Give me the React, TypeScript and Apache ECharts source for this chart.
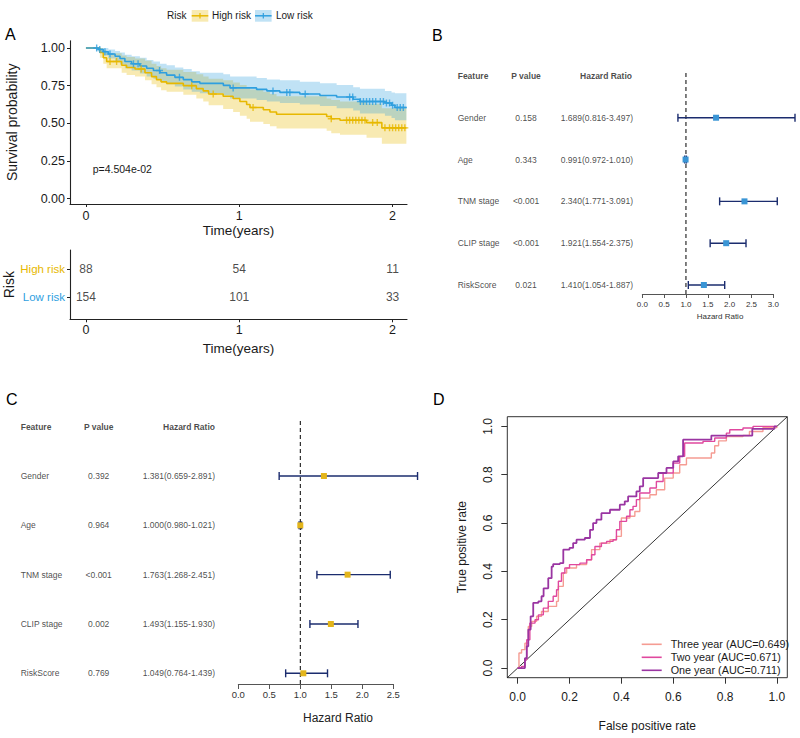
import React, { useEffect, useRef } from 'react';
import * as echarts from 'echarts';

// ---------------- Panel A: Kaplan-Meier ----------------
const riskGroups = ['High risk', 'Low risk'];
// [time (years), survival, lower CI, upper CI]
const highRiskKM = [
  [0, 1, 1, 1], [0.091, 0.97, 0.935, 1], [0.113, 0.935, 0.895, 0.985], [0.135, 0.91, 0.865, 0.965],
  [0.233, 0.885, 0.835, 0.95], [0.265, 0.87, 0.82, 0.94], [0.32, 0.86, 0.81, 0.93], [0.385, 0.835, 0.785, 0.915],
  [0.428, 0.81, 0.76, 0.895], [0.46, 0.79, 0.74, 0.88], [0.49, 0.775, 0.72, 0.865], [0.526, 0.765, 0.71, 0.855],
  [0.635, 0.75, 0.69, 0.84], [0.72, 0.73, 0.665, 0.825], [0.765, 0.715, 0.645, 0.81], [0.8, 0.695, 0.62, 0.795],
  [0.895, 0.68, 0.595, 0.785], [0.96, 0.665, 0.575, 0.77], [1.004, 0.645, 0.55, 0.755], [1.048, 0.625, 0.53, 0.74],
  [1.07, 0.605, 0.51, 0.725], [1.157, 0.59, 0.495, 0.71], [1.2, 0.575, 0.48, 0.695], [1.243, 0.56, 0.465, 0.68],
  [1.57, 0.545, 0.45, 0.665], [1.6, 0.53, 0.435, 0.655], [1.657, 0.52, 0.425, 0.645], [1.83, 0.505, 0.405, 0.63],
  [1.93, 0.47, 0.365, 0.6], [2.09, 0.47, 0.365, 0.6],
];
const lowRiskKM = [
  [0, 1, 1, 1], [0.08, 0.99, 0.975, 1], [0.113, 0.975, 0.95, 1], [0.146, 0.96, 0.93, 0.99],
  [0.19, 0.945, 0.91, 0.98], [0.222, 0.93, 0.89, 0.97], [0.254, 0.91, 0.865, 0.955], [0.298, 0.895, 0.85, 0.945],
  [0.352, 0.88, 0.83, 0.935], [0.396, 0.865, 0.81, 0.92], [0.44, 0.85, 0.795, 0.91], [0.483, 0.835, 0.775, 0.895],
  [0.526, 0.82, 0.76, 0.885], [0.58, 0.805, 0.745, 0.87], [0.635, 0.79, 0.725, 0.86], [0.69, 0.775, 0.71, 0.845],
  [0.743, 0.765, 0.7, 0.835], [0.896, 0.752, 0.685, 0.825], [0.94, 0.735, 0.665, 0.81], [1.113, 0.725, 0.655, 0.8],
  [1.18, 0.715, 0.645, 0.79], [1.265, 0.705, 0.635, 0.785], [1.395, 0.695, 0.625, 0.775], [1.526, 0.685, 0.615, 0.765],
  [1.635, 0.675, 0.6, 0.755], [1.743, 0.66, 0.585, 0.74], [1.787, 0.645, 0.565, 0.73], [1.95, 0.635, 0.55, 0.715],
  [1.993, 0.62, 0.535, 0.705], [2.015, 0.605, 0.52, 0.7], [2.09, 0.605, 0.52, 0.7],
];
const highRiskCensor = [0.157, 0.2, 0.36, 0.69, 0.83, 1.09, 1.6, 1.7, 1.72, 1.74, 1.76, 1.78, 1.8, 1.82, 1.87, 1.9, 1.95, 1.98, 2.0, 2.02, 2.04, 2.06, 2.08];
const lowRiskCensor = [0.07, 0.09, 0.124, 0.157, 0.31, 0.34, 0.48, 0.61, 0.96, 1.22, 1.31, 1.33, 1.43, 1.72, 1.74, 1.79, 1.81, 1.83, 1.85, 1.87, 1.89, 1.92, 1.94, 1.96, 1.98, 2.0, 2.03, 2.05, 2.07];
const pValueText = 'p=4.504e-02';
const kmXTicks = [0, 1, 2];
const kmYTicks = [0, 0.25, 0.5, 0.75, 1];
const riskTableTimes = [0, 1, 2];
const highRiskAtRisk = [88, 54, 11];
const lowRiskAtRisk = [154, 101, 33];

// ---------------- Panels B & C: forest plots ----------------
const features = ['Gender', 'Age', 'TNM stage', 'CLIP stage', 'RiskScore'];
const headers = ['Feature', 'P value', 'Hazard Ratio'];
const uniP = ['0.158', '0.343', '<0.001', '<0.001', '0.021'];
const uniHR = [1.689, 0.991, 2.34, 1.921, 1.41];
const uniLow = [0.816, 0.972, 1.771, 1.554, 1.054];
const uniHigh = [3.497, 1.01, 3.091, 2.375, 1.887];
const multiP = ['0.392', '0.964', '<0.001', '0.002', '0.769'];
const multiHR = [1.381, 1.0, 1.763, 1.493, 1.049];
const multiLow = [0.659, 0.98, 1.268, 1.155, 0.764];
const multiHigh = [2.891, 1.021, 2.451, 1.93, 1.439];
const forestTicksB = [0, 0.5, 1, 1.5, 2, 2.5, 3];
const forestTicksC = [0, 0.5, 1, 1.5, 2, 2.5];

// ---------------- Panel D: time-dependent ROC ----------------
const rocNames = ['Three year (AUC=0.649)', 'Two year (AUC=0.671)', 'One year (AUC=0.711)'];
const rocThree = [
  [0, 0], [0.005, 0.062], [0.015, 0.076], [0.028, 0.103], [0.041, 0.172], [0.054, 0.193], [0.073, 0.214],
  [0.092, 0.234], [0.118, 0.255], [0.15, 0.276], [0.157, 0.338], [0.176, 0.393], [0.189, 0.414], [0.227, 0.428],
  [0.266, 0.448], [0.285, 0.49], [0.317, 0.517], [0.356, 0.531], [0.381, 0.545], [0.4, 0.621], [0.433, 0.628],
  [0.452, 0.648], [0.471, 0.703], [0.51, 0.717], [0.535, 0.738], [0.567, 0.786], [0.6, 0.807], [0.625, 0.841],
  [0.651, 0.869], [0.728, 0.869], [0.747, 0.89], [0.76, 0.92], [0.775, 0.94], [0.805, 0.958], [0.869, 0.962],
  [0.894, 0.979], [0.946, 0.995], [1, 1],
];
const rocTwo = [
  [0, 0], [0.015, 0.007], [0.028, 0.034], [0.035, 0.117], [0.047, 0.186], [0.067, 0.2], [0.08, 0.22],
  [0.099, 0.248], [0.118, 0.276], [0.137, 0.297], [0.15, 0.324], [0.157, 0.359], [0.169, 0.393], [0.182, 0.414],
  [0.2, 0.428], [0.24, 0.434], [0.266, 0.448], [0.285, 0.469], [0.298, 0.503], [0.323, 0.517], [0.343, 0.524],
  [0.368, 0.531], [0.381, 0.572], [0.394, 0.607], [0.42, 0.628], [0.433, 0.655], [0.445, 0.669], [0.458, 0.697],
  [0.471, 0.724], [0.51, 0.745], [0.535, 0.772], [0.561, 0.807], [0.6, 0.848], [0.625, 0.876], [0.644, 0.931],
  [0.715, 0.938], [0.76, 0.952], [0.805, 0.972], [0.818, 0.986], [0.869, 0.993], [0.908, 1.0], [1, 1],
];
const rocOne = [
  [0, 0], [0.009, 0], [0.028, 0.041], [0.035, 0.09], [0.041, 0.159], [0.05, 0.214], [0.06, 0.27], [0.08, 0.276],
  [0.092, 0.297], [0.1, 0.33], [0.118, 0.372], [0.131, 0.42], [0.137, 0.43], [0.163, 0.434], [0.176, 0.49],
  [0.2, 0.497], [0.214, 0.517], [0.227, 0.531], [0.259, 0.538], [0.279, 0.572], [0.291, 0.6], [0.304, 0.614],
  [0.323, 0.641], [0.356, 0.655], [0.388, 0.655], [0.394, 0.676], [0.413, 0.69], [0.426, 0.71], [0.458, 0.731],
  [0.471, 0.752], [0.484, 0.786], [0.529, 0.786], [0.542, 0.807], [0.574, 0.828], [0.6, 0.855], [0.619, 0.876],
  [0.638, 0.945], [0.747, 0.945], [0.747, 0.962], [0.905, 0.962], [0.905, 0.99], [0.99, 1.0], [1, 1],
];
const rocTicks = [0, 0.2, 0.4, 0.6, 0.8, 1];

// ---------------- styling ----------------
const HIGH = '#E7B800';
const LOW = '#2E9FDF';
const NAVY = '#1B2C6E';
const BOX_B = '#3A95D5';
const BOX_C = '#E3B51B';
const ROC_COLORS = ['#F59C93', '#E0489E', '#9A35A2'];
const FONT = "'Liberation Sans', Arial, Helvetica, sans-serif";
const TXT = '#1a1a1a';
const PLUS = 'path://M4,0H6V4H10V6H6V10H4V6H0V4H4Z';

function survAt(rows: number[][], t: number) {
  let s = rows[0][1];
  for (const r of rows) {
    if (r[0] <= t) s = r[1];
    else break;
  }
  return s;
}

function bandSeries(rows: number[][], fill: string) {
  return {
    type: 'custom',
    xAxisIndex: 0,
    yAxisIndex: 0,
    silent: true,
    clip: true,
    z: 1,
    data: rows.map((r) => [r[0], r[1]]),
    renderItem: (params: any, api: any) => {
      if (params.dataIndex !== 0) return null;
      const pts: number[][] = [];
      for (let i = 0; i < rows.length; i++) {
        const t0 = rows[i][0];
        const t1 = i + 1 < rows.length ? rows[i + 1][0] : rows[i][0];
        pts.push(api.coord([t0, rows[i][3]]), api.coord([t1, rows[i][3]]));
      }
      for (let i = rows.length - 1; i >= 0; i--) {
        const t0 = rows[i][0];
        const t1 = i + 1 < rows.length ? rows[i + 1][0] : rows[i][0];
        pts.push(api.coord([t1, rows[i][2]]), api.coord([t0, rows[i][2]]));
      }
      return { type: 'polygon', shape: { points: pts }, style: { fill } };
    },
  };
}

const rowValue = (i: number) => features.length - i;

function forestSeries(hr: number[], lo: number[], hi: number[], ax: number, box: string, half: number) {
  return {
    type: 'custom',
    xAxisIndex: ax,
    yAxisIndex: ax,
    silent: true,
    clip: false,
    z: 5,
    data: hr.map((h, i) => [h, rowValue(i), lo[i], hi[i]]),
    renderItem: (params: any, api: any) => {
      const y = api.value(1);
      const pL = api.coord([api.value(2), y]);
      const pH = api.coord([api.value(3), y]);
      const pM = api.coord([api.value(0), y]);
      const cap = 4;
      const ls = { stroke: NAVY, lineWidth: 1.4 };
      return {
        type: 'group',
        children: [
          { type: 'line', shape: { x1: pL[0], y1: pL[1], x2: pH[0], y2: pH[1] }, style: ls },
          { type: 'line', shape: { x1: pL[0], y1: pL[1] - cap, x2: pL[0], y2: pL[1] + cap }, style: ls },
          { type: 'line', shape: { x1: pH[0], y1: pH[1] - cap, x2: pH[0], y2: pH[1] + cap }, style: ls },
          { type: 'rect', shape: { x: pM[0] - half, y: pM[1] - half, width: 2 * half, height: 2 * half }, style: { fill: box } },
        ],
      };
    },
  };
}

function textColumn(texts: string[], rows: number[], x: number, align: string, ax: number, bold: boolean) {
  return {
    type: 'scatter',
    xAxisIndex: ax,
    yAxisIndex: ax,
    silent: true,
    symbolSize: 0.01,
    itemStyle: { color: 'transparent' },
    data: texts.map((t, i) => ({ value: [x, rows[i]], name: t })),
    label: {
      show: true,
      position: 'inside',
      align,
      verticalAlign: 'middle',
      formatter: '{b}',
      fontSize: 8.5,
      color: TXT,
      fontWeight: bold ? 'bold' : 'normal',
      fontFamily: FONT,
    },
  };
}

const hrText = (hr: number[], lo: number[], hi: number[]) =>
  hr.map((h, i) => `${h.toFixed(3)}(${lo[i].toFixed(3)}-${hi[i].toFixed(3)})`);

function hiddenAxis(grid: number, min: number, max: number) {
  return { type: 'value', gridIndex: grid, min, max, show: false, splitLine: { show: false } };
}

export default function App() {
  const ref = useRef<HTMLDivElement>(null);

  useEffect(() => {
    if (!ref.current) return;
    const chart = echarts.init(ref.current, undefined, { renderer: 'svg' });

    const kmAxisLine = { show: true, onZero: false, lineStyle: { color: '#222', width: 1.1 } };
    const kmTick = { show: true, length: 3, lineStyle: { color: '#222' } };

    const rowVals = features.map((_, i) => rowValue(i));

    const option: any = {
      animation: false,
      textStyle: { fontFamily: FONT },
      grid: [
        { left: 70, top: 40.7, width: 337, height: 163.3 }, // 0 KM
        { left: 70, top: 250, width: 337, height: 69.3 }, // 1 risk table
        { left: 642.3, top: 70, width: 131, height: 224 }, // 2 forest B
        { left: 0, top: 70, width: 800, height: 224 }, // 3 table B
        { left: 238.3, top: 419, width: 155, height: 265 }, // 4 forest C
        { left: 0, top: 419, width: 800, height: 265 }, // 5 table C
        { left: 507.3, top: 416.7, width: 280, height: 261, show: true, borderColor: '#333', borderWidth: 1, backgroundColor: 'transparent' }, // 6 ROC
      ],
      xAxis: [
        {
          type: 'value', gridIndex: 0, min: -0.104, max: 2.094,
          axisLine: kmAxisLine,
          axisTick: { ...kmTick, customValues: kmXTicks },
          axisLabel: { customValues: kmXTicks, fontSize: 12.5, color: TXT, margin: 5 },
          splitLine: { show: false },
          name: 'Time(years)', nameLocation: 'middle', nameGap: 19,
          nameTextStyle: { fontSize: 13.5, color: TXT },
        },
        {
          type: 'value', gridIndex: 1, min: -0.104, max: 2.094,
          axisLine: kmAxisLine,
          axisTick: { ...kmTick, customValues: kmXTicks },
          axisLabel: { customValues: kmXTicks, fontSize: 12.5, color: TXT, margin: 4 },
          splitLine: { show: false },
          name: 'Time(years)', nameLocation: 'middle', nameGap: 22,
          nameTextStyle: { fontSize: 13.5, color: TXT },
        },
        {
          type: 'value', gridIndex: 2, min: 0, max: 3,
          axisLine: { show: true, onZero: false, lineStyle: { color: '#555', width: 1 } },
          axisTick: { show: true, length: 4, lineStyle: { color: '#555' }, customValues: forestTicksB },
          axisLabel: { customValues: forestTicksB, formatter: (v: number) => Number(v).toFixed(1), fontSize: 8, color: '#333', margin: 6 },
          splitLine: { show: false },
        },
        hiddenAxis(3, 0, 800),
        {
          type: 'value', gridIndex: 4, min: 0, max: 2.5,
          axisLine: { show: true, onZero: false, lineStyle: { color: '#555', width: 1 } },
          axisTick: { show: true, length: 5, lineStyle: { color: '#555' }, customValues: forestTicksC },
          axisLabel: { customValues: forestTicksC, formatter: (v: number) => Number(v).toFixed(1), fontSize: 9.5, color: '#333', margin: 5 },
          splitLine: { show: false },
        },
        hiddenAxis(5, 0, 800),
        {
          type: 'value', gridIndex: 6, min: -0.04, max: 1.04,
          axisLine: { show: false, onZero: false },
          axisTick: { show: true, length: 6, lineStyle: { color: '#333' }, customValues: rocTicks },
          axisLabel: { customValues: rocTicks, formatter: (v: number) => Number(v).toFixed(1), fontSize: 12, color: TXT, margin: 13 },
          splitLine: { show: false },
          name: 'False positive rate', nameLocation: 'middle', nameGap: 42,
          nameTextStyle: { fontSize: 12, color: TXT },
        },
      ],
      yAxis: [
        {
          type: 'value', gridIndex: 0, min: -0.035, max: 1.048,
          axisLine: kmAxisLine,
          axisTick: { ...kmTick, customValues: kmYTicks },
          axisLabel: { customValues: kmYTicks, formatter: (v: number) => Number(v).toFixed(2), fontSize: 12.5, color: TXT, margin: 5 },
          splitLine: { show: false },
          name: 'Survival probability', nameLocation: 'middle', nameGap: 51,
          nameTextStyle: { fontSize: 14, color: TXT },
        },
        {
          type: 'value', gridIndex: 1, min: 0.21, max: 2.68,
          axisLine: kmAxisLine,
          axisTick: { ...kmTick, customValues: [1, 2] },
          axisLabel: {
            customValues: [1, 2],
            formatter: (v: number) => (v === 2 ? `{h|${riskGroups[0]}}` : v === 1 ? `{l|${riskGroups[1]}}` : ''),
            rich: {
              h: { color: HIGH, fontSize: 11.5, fontFamily: FONT },
              l: { color: LOW, fontSize: 11.5, fontFamily: FONT },
            },
            margin: 5,
          },
          splitLine: { show: false },
          name: 'Risk', nameLocation: 'middle', nameGap: 53,
          nameTextStyle: { fontSize: 14, color: TXT },
        },
        hiddenAxis(2, 0.785, 6.141),
        hiddenAxis(3, 0.785, 6.141),
        hiddenAxis(4, 0.783, 6.156),
        hiddenAxis(5, 0.783, 6.156),
        {
          type: 'value', gridIndex: 6, min: -0.04, max: 1.04,
          axisLine: { show: false, onZero: false },
          axisTick: { show: true, length: 6, lineStyle: { color: '#333' }, customValues: rocTicks },
          axisLabel: { customValues: rocTicks, formatter: (v: number) => Number(v).toFixed(1), fontSize: 12, color: TXT, margin: 13, rotate: 90 },
          splitLine: { show: false },
          name: 'True positive rate', nameLocation: 'middle', nameGap: 39,
          nameTextStyle: { fontSize: 12, color: TXT },
        },
      ],
      legend: [
        {
          data: rocNames,
          orient: 'vertical',
          left: 636.7,
          top: 633.8,
          icon: 'rect',
          itemWidth: 20,
          itemHeight: 1.6,
          itemGap: 2,
          textStyle: { fontSize: 10.8, color: TXT, lineHeight: 11, padding: [0, 0, 0, 4] },
          selectedMode: false,
        },
      ],
      series: [
        // Panel A bands, curves, censor marks
        bandSeries(highRiskKM, 'rgba(231,184,0,0.3)'),
        bandSeries(lowRiskKM, 'rgba(46,159,223,0.3)'),
        {
          type: 'line', name: riskGroups[0], xAxisIndex: 0, yAxisIndex: 0, step: 'end', symbol: 'none',
          data: highRiskKM.map((r) => [r[0], r[1]]), lineStyle: { color: HIGH, width: 1.6 }, z: 3, silent: true,
        },
        {
          type: 'line', name: riskGroups[1], xAxisIndex: 0, yAxisIndex: 0, step: 'end', symbol: 'none',
          data: lowRiskKM.map((r) => [r[0], r[1]]), lineStyle: { color: LOW, width: 1.6 }, z: 3, silent: true,
        },
        {
          type: 'scatter', xAxisIndex: 0, yAxisIndex: 0, symbol: PLUS, symbolSize: 7, z: 4, silent: true,
          itemStyle: { color: HIGH }, data: highRiskCensor.map((t) => [t, survAt(highRiskKM, t)]),
        },
        {
          type: 'scatter', xAxisIndex: 0, yAxisIndex: 0, symbol: PLUS, symbolSize: 7, z: 4, silent: true,
          itemStyle: { color: LOW }, data: lowRiskCensor.map((t) => [t, survAt(lowRiskKM, t)]),
        },
        // risk table
        {
          type: 'scatter', xAxisIndex: 1, yAxisIndex: 1, symbolSize: 0.01, silent: true, itemStyle: { color: 'transparent' },
          data: riskTableTimes.map((t, i) => [t, 2, highRiskAtRisk[i]]),
          label: { show: true, position: 'inside', formatter: (p: any) => String(p.value[2]), fontSize: 12, color: TXT, fontFamily: FONT },
        },
        {
          type: 'scatter', xAxisIndex: 1, yAxisIndex: 1, symbolSize: 0.01, silent: true, itemStyle: { color: 'transparent' },
          data: riskTableTimes.map((t, i) => [t, 1, lowRiskAtRisk[i]]),
          label: { show: true, position: 'inside', formatter: (p: any) => String(p.value[2]), fontSize: 12, color: TXT, fontFamily: FONT },
        },
        // Panel B
        {
          type: 'line', xAxisIndex: 2, yAxisIndex: 2, symbol: 'none', silent: true, z: 2,
          data: [[1, 0.785], [1, 6.141]], lineStyle: { color: '#000', width: 1, type: [4, 3] },
        },
        forestSeries(uniHR, uniLow, uniHigh, 2, BOX_B, 3),
        textColumn(headers.slice(0, 1), [6], 457.7, 'left', 3, true),
        textColumn(headers.slice(1, 2), [6], 526, 'center', 3, true),
        textColumn(headers.slice(2, 3), [6], 632, 'right', 3, true),
        textColumn(features, rowVals, 457.7, 'left', 3, false),
        textColumn(uniP, rowVals, 526, 'center', 3, false),
        textColumn(hrText(uniHR, uniLow, uniHigh), rowVals, 633, 'right', 3, false),
        // Panel C
        {
          type: 'line', xAxisIndex: 4, yAxisIndex: 4, symbol: 'none', silent: true, z: 2,
          data: [[1, 0.783], [1, 6.156]], lineStyle: { color: '#000', width: 1, type: [4, 3] },
        },
        forestSeries(multiHR, multiLow, multiHigh, 4, BOX_C, 3),
        textColumn(headers.slice(0, 1), [6], 20.7, 'left', 5, true),
        textColumn(headers.slice(1, 2), [6], 98.7, 'center', 5, true),
        textColumn(headers.slice(2, 3), [6], 215, 'right', 5, true),
        textColumn(features, rowVals, 20.7, 'left', 5, false),
        textColumn(multiP, rowVals, 98.7, 'center', 5, false),
        textColumn(hrText(multiHR, multiLow, multiHigh), rowVals, 215, 'right', 5, false),
        // Panel D
        {
          type: 'line', xAxisIndex: 6, yAxisIndex: 6, symbol: 'none', silent: true,
          data: [[-0.04, -0.04], [1.04, 1.04]], lineStyle: { color: '#000', width: 0.8 },
        },
        ...[rocThree, rocTwo, rocOne].map((d, i) => ({
          type: 'line', name: rocNames[i], xAxisIndex: 6, yAxisIndex: 6, symbol: 'none', silent: true,
          step: 'end', data: d, color: ROC_COLORS[i],
          lineStyle: { color: ROC_COLORS[i], width: i === 2 ? 1.8 : 1.4 },
        })),
      ],
      graphic: [
        { type: 'text', left: 5, top: 26, style: { text: 'A', fontSize: 16, fill: '#000', fontFamily: FONT } },
        { type: 'text', left: 432, top: 27, style: { text: 'B', fontSize: 16, fill: '#000', fontFamily: FONT } },
        { type: 'text', left: 6, top: 391, style: { text: 'C', fontSize: 16, fill: '#000', fontFamily: FONT } },
        { type: 'text', left: 433, top: 391, style: { text: 'D', fontSize: 16, fill: '#000', fontFamily: FONT } },
        // legend of panel A
        { type: 'text', x: 167, y: 15.8, style: { text: 'Risk', fontSize: 10, fill: TXT, fontFamily: FONT, verticalAlign: 'middle' } },
        { type: 'rect', shape: { x: 191.7, y: 10, width: 16.6, height: 11.7 }, style: { fill: 'rgba(231,184,0,0.3)' } },
        { type: 'line', shape: { x1: 191.7, y1: 15.8, x2: 208.3, y2: 15.8 }, style: { stroke: HIGH, lineWidth: 1.5 } },
        { type: 'line', shape: { x1: 200, y1: 13, x2: 200, y2: 18.6 }, style: { stroke: HIGH, lineWidth: 1.2 } },
        { type: 'text', x: 212, y: 15.8, style: { text: riskGroups[0], fontSize: 10, fill: TXT, fontFamily: FONT, verticalAlign: 'middle' } },
        { type: 'rect', shape: { x: 255, y: 10, width: 16.6, height: 11.7 }, style: { fill: 'rgba(46,159,223,0.3)' } },
        { type: 'line', shape: { x1: 255, y1: 15.8, x2: 271.6, y2: 15.8 }, style: { stroke: LOW, lineWidth: 1.5 } },
        { type: 'line', shape: { x1: 263.3, y1: 13, x2: 263.3, y2: 18.6 }, style: { stroke: LOW, lineWidth: 1.2 } },
        { type: 'text', x: 276, y: 15.8, style: { text: riskGroups[1], fontSize: 10, fill: TXT, fontFamily: FONT, verticalAlign: 'middle' } },
        // p value
        { type: 'text', x: 92.7, y: 169.3, style: { text: pValueText, fontSize: 10.5, fill: TXT, fontFamily: FONT, verticalAlign: 'middle' } },
        // forest x titles
        { type: 'text', x: 720, y: 316.7, style: { text: headers[2], fontSize: 8, fill: '#333', fontFamily: FONT, align: 'center', verticalAlign: 'middle' } },
        { type: 'text', x: 338, y: 718, style: { text: headers[2], fontSize: 12, fill: '#222', fontFamily: FONT, align: 'center', verticalAlign: 'middle' } },
      ],
    };

    chart.setOption(option);
    return () => chart.dispose();
  }, []);

  return <div ref={ref} style={{ position: 'absolute', left: 0, top: 0, width: 800, height: 738, background: '#fff' }} />;
}
